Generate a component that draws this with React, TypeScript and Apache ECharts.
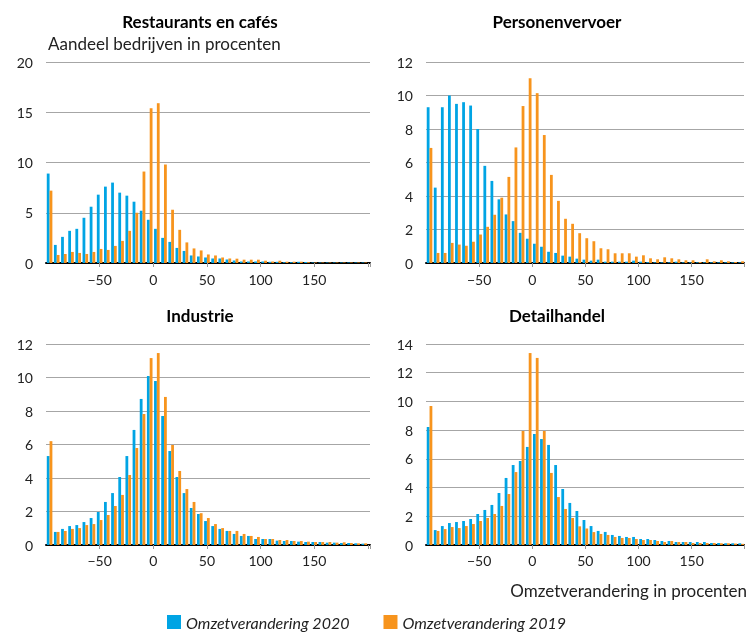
import React, { useEffect, useRef } from 'react';
import * as echarts from 'echarts';

// Bin midpoints (omzetverandering in procenten), 45 bins from -100 to 200
const BIN_CENTERS = [
  -96.67, -90, -83.33, -76.67, -70, -63.33, -56.67, -50, -43.33, -36.67,
  -30, -23.33, -16.67, -10, -3.33, 3.33, 10, 16.67, 23.33, 30,
  36.67, 43.33, 50, 56.67, 63.33, 70, 76.67, 83.33, 90, 96.67,
  103.33, 110, 116.67, 123.33, 130, 136.67, 143.33, 150, 156.67, 163.33,
  170, 176.67, 183.33, 190, 196.67,
];

const SERIES_2020 = 'Omzetverandering 2020';
const SERIES_2019 = 'Omzetverandering 2019';

const RESTAURANTS_2020 = [
  8.9, 1.8, 2.6, 3.2, 3.4, 4.5, 5.6, 6.8, 7.6, 8.0,
  7.0, 6.7, 6.1, 5.2, 4.3, 3.4, 2.5, 2.1, 1.5, 1.2,
  0.75, 0.65, 0.55, 0.45, 0.45, 0.35, 0.25, 0.15, 0.15, 0.15,
  0.15, 0.12, 0.12, 0.08, 0.08, 0.12, 0.1, 0.05, 0.05, 0.05,
  0.05, 0.05, 0.05, 0.05, 0.05,
];
const RESTAURANTS_2019 = [
  7.2, 0.8, 0.9, 1.1, 1.0, 0.9, 1.1, 1.4, 1.3, 1.7,
  2.2, 3.2, 5.0, 9.1, 15.4, 15.9, 9.8, 5.3, 3.3, 2.05,
  1.45, 1.25, 0.85, 0.75, 0.55, 0.45, 0.43, 0.33, 0.33, 0.33,
  0.23, 0.15, 0.23, 0.13, 0.13, 0.13, 0.08, 0.05, 0.05, 0.05,
  0.05, 0.05, 0.05, 0.05, 0.05,
];
const PERSONEN_2020 = [
  9.3, 4.5, 9.3, 10.0, 9.5, 9.6, 9.4, 8.0, 5.8, 4.9,
  3.8, 2.9, 2.5, 1.8, 1.45, 1.15, 0.97, 0.67, 0.6, 0.44,
  0.38, 0.26, 0.2, 0.14, 0.2, 0.08, 0.08, 0.08, 0.08, 0.14,
  0.08, 0.05, 0.04, 0.04, 0.04, 0.08, 0.04, 0.04, 0.04, 0.04,
  0.04, 0.04, 0.04, 0.04, 0.04,
];
const PERSONEN_2019 = [
  6.87, 0.6, 0.6, 1.2, 1.1, 1.03, 1.27, 1.7, 2.16, 2.88,
  3.9, 5.14, 6.9, 9.37, 11.03, 10.14, 7.64, 5.26, 3.71, 2.64,
  2.34, 1.78, 1.48, 1.3, 0.88, 0.82, 0.58, 0.58, 0.58, 0.38,
  0.46, 0.28, 0.22, 0.34, 0.28, 0.22, 0.16, 0.16, 0.06, 0.22,
  0.1, 0.16, 0.1, 0.06, 0.1,
];
const INDUSTRIE_2020 = [
  5.31, 0.78, 0.96, 1.13, 1.19, 1.37, 1.61, 1.97, 2.57, 3.1,
  4.06, 5.31, 6.87, 8.72, 10.09, 9.79, 7.7, 5.61, 4.06, 3.1,
  2.21, 1.85, 1.43, 1.13, 0.96, 0.84, 0.66, 0.54, 0.54, 0.36,
  0.36, 0.36, 0.26, 0.24, 0.24, 0.2, 0.18, 0.18, 0.18, 0.14,
  0.14, 0.12, 0.12, 0.1, 0.08,
];
const INDUSTRIE_2019 = [
  6.2, 0.78, 0.84, 0.96, 1.01, 1.19, 1.25, 1.49, 1.79, 2.33,
  2.99, 4.18, 5.79, 7.82, 11.16, 11.46, 8.84, 5.97, 4.42, 3.34,
  2.57, 1.9, 1.61, 1.25, 1.01, 0.84, 0.84, 0.66, 0.54, 0.48,
  0.36, 0.36, 0.3, 0.3, 0.24, 0.24, 0.2, 0.18, 0.18, 0.18,
  0.14, 0.16, 0.12, 0.1, 0.1,
];
const DETAIL_2020 = [
  8.22, 1.04, 1.32, 1.53, 1.6, 1.67, 1.81, 2.16, 2.44, 2.79,
  3.62, 4.67, 5.57, 5.85, 6.83, 7.73, 7.38, 6.97, 5.57, 3.9,
  2.93, 2.37, 1.74, 1.32, 0.98, 0.91, 0.7, 0.63, 0.56, 0.56,
  0.42, 0.42, 0.35, 0.28, 0.28, 0.21, 0.21, 0.21, 0.21, 0.21,
  0.14, 0.14, 0.12, 0.12, 0.12,
];
const DETAIL_2019 = [
  9.68, 0.98, 1.11, 1.25, 1.18, 1.32, 1.46, 1.67, 1.88, 2.16,
  2.72, 3.55, 5.08, 7.94, 13.37, 13.03, 7.94, 5.02, 3.34, 2.51,
  1.88, 1.3, 1.15, 0.9, 0.77, 0.7, 0.56, 0.49, 0.49, 0.42,
  0.35, 0.35, 0.28, 0.21, 0.28, 0.21, 0.21, 0.14, 0.14, 0.14,
  0.14, 0.12, 0.12, 0.1, 0.08,
];

const PANEL_TITLES = ['Restaurants en cafés', 'Personenvervoer', 'Industrie', 'Detailhandel'];
const Y_MAX = [20, 12, 12, 14];
const Y_INTERVAL = [5, 2, 2, 2];
const Y_TITLE = 'Aandeel bedrijven in procenten';
const X_TITLE = 'Omzetverandering in procenten';

const BLUE = '#00a4e4';
const ORANGE = '#f7941d';
const FONT = 'Lato, "Open Sans", sans-serif';

export default function App() {
  const ref = useRef<HTMLDivElement>(null);

  useEffect(() => {
    if (!ref.current) return;
    const chart = echarts.init(ref.current, null, { renderer: 'svg' });

    const data2020 = [RESTAURANTS_2020, PERSONEN_2020, INDUSTRIE_2020, DETAIL_2020];
    const data2019 = [RESTAURANTS_2019, PERSONEN_2019, INDUSTRIE_2019, DETAIL_2019];

    const layout = [
      { left: 46, top: 62, width: 324, xMax: 202, titleX: 200, titleY: 21, labelMargin: 9 },
      { left: 426, top: 62, width: 321, xMax: 199.3, titleX: 557, titleY: 21, labelMargin: 9 },
      { left: 46, top: 344, width: 324, xMax: 202, titleX: 200, titleY: 315, labelMargin: 8 },
      { left: 426, top: 344, width: 321, xMax: 199.3, titleX: 557, titleY: 315, labelMargin: 8 },
    ];

    const grids = layout.map((l) => ({ left: l.left, top: l.top, width: l.width, height: 201 }));

    const xAxes = layout.map((l, i) => ({
      type: 'value',
      gridIndex: i,
      min: -100,
      max: l.xMax,
      interval: 50,
      axisLine: { show: true, lineStyle: { color: '#000', width: 2 } },
      axisTick: { show: true, length: 4, lineStyle: { color: '#999', width: 1 } },
      splitLine: { show: false },
      axisLabel: {
        fontFamily: FONT,
        fontSize: 14,
        color: '#222',
        margin: l.labelMargin,
        showMinLabel: false,
        formatter: (v: number) => {
          if (v <= -100 || v > 150) return '';
          return v < 0 ? '\u2212' + Math.abs(v) : String(v);
        },
      },
    }));

    const yAxes = layout.map((_, i) => ({
      type: 'value',
      gridIndex: i,
      min: 0,
      max: Y_MAX[i],
      interval: Y_INTERVAL[i],
      axisLine: { show: false },
      axisTick: { show: false },
      splitLine: { show: true, lineStyle: { color: '#a6a6a6', width: 1 } },
      axisLabel: { fontFamily: FONT, fontSize: 14, color: '#222', margin: 13 },
    }));

    const series: any[] = [];
    for (let i = 0; i < 4; i++) {
      series.push({
        type: 'bar',
        name: SERIES_2020,
        xAxisIndex: i,
        yAxisIndex: i,
        barWidth: 2.8,
        barGap: '0%',
        itemStyle: { color: BLUE },
        data: BIN_CENTERS.map((x, j) => [x, data2020[i][j]]),
      });
      series.push({
        type: 'bar',
        name: SERIES_2019,
        xAxisIndex: i,
        yAxisIndex: i,
        barWidth: 2.8,
        barGap: '0%',
        itemStyle: { color: ORANGE },
        data: BIN_CENTERS.map((x, j) => [x, data2019[i][j]]),
      });
    }

    const graphics: any[] = layout.map((l, i) => ({
      type: 'text',
      x: l.titleX,
      y: l.titleY,
      style: {
        text: PANEL_TITLES[i],
        font: `bold 17px ${FONT}`,
        fill: '#000',
        textAlign: 'center',
        textVerticalAlign: 'middle',
        align: 'center',
        verticalAlign: 'middle',
      },
    }));
    graphics.push({
      type: 'text',
      x: 48,
      y: 43,
      style: {
        text: Y_TITLE,
        font: `17px ${FONT}`,
        fill: '#222',
        textAlign: 'left',
        textVerticalAlign: 'middle',
        align: 'left',
        verticalAlign: 'middle',
      },
    });
    graphics.push({
      type: 'text',
      x: 747,
      y: 590,
      style: {
        text: X_TITLE,
        font: `17px ${FONT}`,
        fill: '#222',
        textAlign: 'right',
        textVerticalAlign: 'middle',
        align: 'right',
        verticalAlign: 'middle',
      },
    });

    chart.setOption({
      animation: false,
      grid: grids,
      xAxis: xAxes,
      yAxis: yAxes,
      series,
      legend: {
        data: [SERIES_2020, SERIES_2019],
        left: 167,
        top: 614,
        padding: 0,
        icon: 'rect',
        itemWidth: 14,
        itemHeight: 14,
        itemGap: 34,
        selectedMode: false,
        textStyle: { fontFamily: FONT, fontStyle: 'italic', fontSize: 16, color: '#222' },
      },
      graphic: graphics,
    });

    return () => chart.dispose();
  }, []);

  return (
    <div
      ref={ref}
      style={{ position: 'fixed', left: 0, top: 0, width: 747, height: 632 }}
    />
  );
}
